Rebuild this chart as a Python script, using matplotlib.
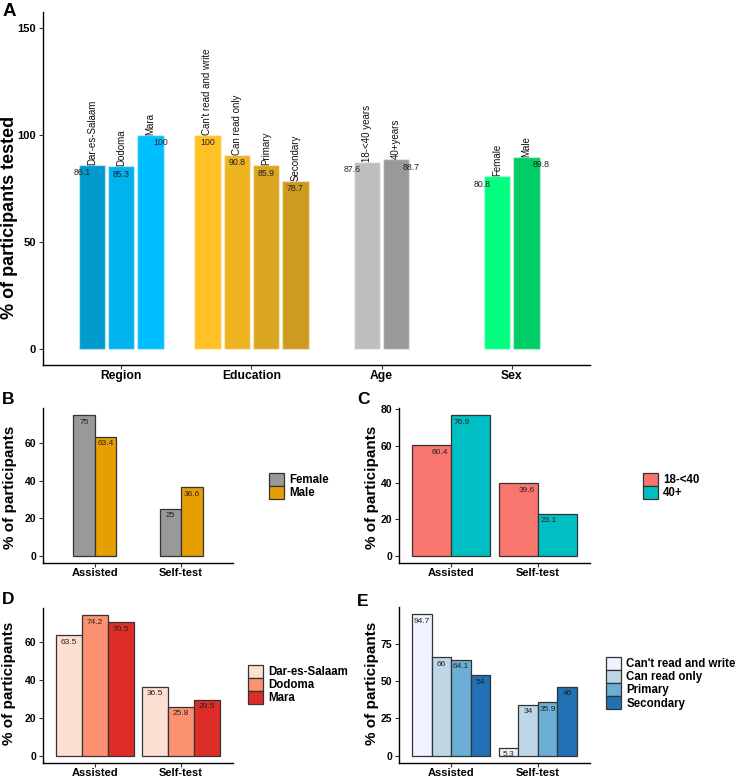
import numpy as np
import matplotlib
matplotlib.use("Agg")
import matplotlib.pyplot as plt

plt.rcParams['font.family'] = ['Liberation Sans', 'DejaVu Sans']

# ---- panel A data ----
groups = ["Region", "Education", "Age", "Sex"]
region_labels = ["Dar-es-Salaam", "Dodoma", "Mara"]
region_vals = [86.1, 85.3, 100]
edu_labels = ["Can't read and write", "Can read only", "Primary", "Secondary"]
edu_vals = [100, 90.8, 85.9, 78.7]
age_labels = ["18-<40 years", "40+years"]
age_vals = [87.6, 88.7]
sex_labels = ["Female", "Male"]
sex_vals = [80.8, 89.8]

# ---- panels B-E data ----
modes = ["Assisted", "Self-test"]
b_names = ["Female", "Male"]
b_vals = [[75, 25], [63.4, 36.6]]
c_names = ["18-<40", "40+"]
c_vals = [[60.4, 39.6], [76.9, 23.1]]
d_names = ["Dar-es-Salaam", "Dodoma", "Mara"]
d_vals = [[63.5, 36.5], [74.2, 25.8], [70.5, 29.5]]
e_names = ["Can't read and write", "Can read only", "Primary", "Secondary"]
e_vals = [[94.7, 5.3], [66, 34], [64.1, 35.9], [54, 46]]

W, H = 740, 779
fig = plt.figure(figsize=(W / 100, H / 100), dpi=100)


def box(l, t, r, b):
    return [l / W, 1 - b / H, (r - l) / W, (b - t) / H]


def style(ax, tick_fs=7.5, xfs=8.0):
    for s in ['top', 'right']:
        ax.spines[s].set_visible(False)
    for s in ['left', 'bottom']:
        ax.spines[s].set_linewidth(1.0)
        ax.spines[s].set_color('black')
    ax.tick_params(length=3, width=0.8, color='#333333', pad=2)
    ax.tick_params(axis='x', pad=0.8)
    for t in ax.get_yticklabels():
        t.set_fontweight('bold'); t.set_fontsize(tick_fs)
    for t in ax.get_xticklabels():
        t.set_fontweight('bold'); t.set_fontsize(xfs)


# ---------------- Panel A ----------------
axA = fig.add_axes(box(43, 12, 590, 365))
a_sets = [(region_labels, region_vals, ['#009ACD', '#00B2EE', '#00BFFF']),
          (edu_labels, edu_vals, ['#FFC125', '#EEB422', '#DAA520', '#CD9B1D']),
          (age_labels, age_vals, ['#BEBEBE', '#999999']),
          (sex_labels, sex_vals, ['#00FF7F', '#00CD66'])]
pitch = 0.225
for g, (labs, vals, cols) in enumerate(a_sets, start=1):
    n = len(vals)
    for i, (lab, v, c) in enumerate(zip(labs, vals, cols)):
        xb = g + (i - (n - 1) / 2) * pitch
        axA.bar(xb, v, width=pitch * 0.9, color=c, edgecolor=(1, 1, 1, 0.45), linewidth=1)
        axA.text(xb, v, lab, rotation=90, ha='center', va='bottom', fontsize=7, color='#111111')
        xl = g + (i - (n - 1) / 2) * 0.9 / n
        axA.annotate(f"{v:g}", (xl, v), xytext=(0, -2.5), textcoords='offset points',
                     ha='center', va='top', fontsize=6.3, color='#222222')
axA.set_xlim(0.4, 4.6)
axA.set_ylim(-7.5, 157.5)
axA.set_yticks([0, 50, 100, 150])
axA.set_xticks(range(1, 5))
axA.set_xticklabels(groups)
style(axA, tick_fs=8, xfs=8.7)
fig.text(9.5 / W, 1 - 217 / H, "% of participants tested", rotation=90, ha='center', va='center',
         fontsize=13, fontweight='bold')
fig.text(3 / W, 1 - 12 / H, "A", fontsize=13.5, fontweight='bold', va='center', ha='left')


# ---------------- Panels B-E ----------------
def small_panel(rect, names, vals, cols, total_w, lab_w, yticks, letter, letter_xy, ylab_xy, leg_xy):
    ax = fig.add_axes(box(*rect))
    n = len(names)
    bw = total_w / n
    x = np.arange(1, len(modes) + 1)
    for i in range(n):
        xb = x + (i - (n - 1) / 2) * bw
        ax.bar(xb, vals[i], width=bw, color=cols[i], edgecolor='#333333', linewidth=0.9,
               label=names[i])
        xl = x + (i - (n - 1) / 2) * lab_w / n
        for xx, v in zip(xl, vals[i]):
            ax.annotate(f"{v:g}", (xx, v), xytext=(0, -2.5), textcoords='offset points',
                        ha='center', va='top', fontsize=6, color='#222222')
    top = max(max(v) for v in vals)
    ax.set_xlim(0.4, 2.6)
    ax.set_ylim(-0.05 * top, 1.05 * top)
    ax.set_yticks(yticks)
    ax.set_xticks(x)
    ax.set_xticklabels(modes)
    style(ax)
    fig.text(ylab_xy[0] / W, 1 - ylab_xy[1] / H, "% of participants", rotation=90,
             ha='center', va='center', fontsize=11, fontweight='bold')
    fig.text(letter_xy[0] / W, 1 - letter_xy[1] / H, letter, fontsize=12.5,
             fontweight='bold', ha='left', va='center')
    ax.legend(loc='upper left', bbox_to_anchor=(leg_xy[0] / W, 1 - leg_xy[1] / H),
              bbox_transform=fig.transFigure, frameon=False, borderpad=0, borderaxespad=0,
              handlelength=1.3, handleheight=1.3, labelspacing=0.0,
              handletextpad=0.45, prop={'weight': 'bold', 'size': 8.3})
    return ax


small_panel((43, 408, 233, 563), b_names, b_vals, ['#999999', '#E69F00'], 0.5, 0.5,
            [0, 20, 40, 60], "B", (2, 399), (10, 487), (269, 473))
small_panel((399, 408, 590, 563), c_names, c_vals, ['#F8766D', '#00BFC4'], 0.9, 0.5,
            [0, 20, 40, 60, 80], "C", (357, 399), (372, 487), (643, 473))
small_panel((43, 608, 233, 763), d_names, d_vals, ['#FEE0D2', '#FC9272', '#DE2D26'], 0.9, 0.9,
            [0, 20, 40, 60], "D", (2, 599), (9, 683), (248, 665))
small_panel((399, 607, 590, 763), e_names, e_vals, ['#EFF3FF', '#BDD7E7', '#6BAED6', '#2171B5'],
            0.9, 0.9, [0, 25, 50, 75], "E", (357, 601), (372, 683), (606, 657))

fig.savefig("out.png", dpi=100)
